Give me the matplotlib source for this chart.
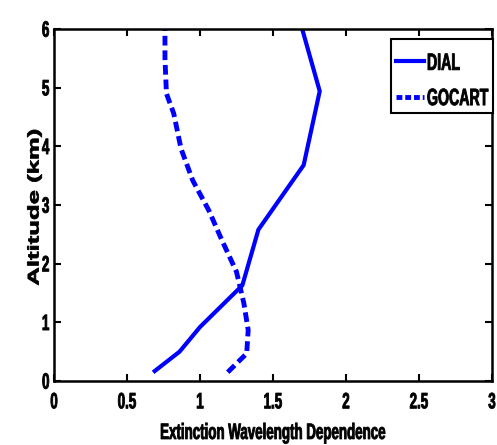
import matplotlib
matplotlib.use('Agg')
import matplotlib.pyplot as plt
from matplotlib import patheffects
from matplotlib.transforms import Affine2D, IdentityTransform
from matplotlib.patches import Rectangle

# altitude profiles (km) and extinction wavelength dependence
dial_alt = [0.17, 0.5, 0.92, 1.63, 2.58, 3.68, 4.94, 6.0]
dial_val = [0.69, 0.86, 1.0, 1.29, 1.40, 1.71, 1.82, 1.70]

gocart_alt = [0.15, 0.47, 0.87, 1.33, 1.86, 2.40, 2.91, 3.42, 3.96, 4.56, 4.90, 5.5, 6.0]
gocart_val = [1.19, 1.32, 1.33, 1.30, 1.25, 1.15, 1.06, 0.95, 0.87, 0.82, 0.77, 0.76, 0.76]

xticks = [0, 0.5, 1, 1.5, 2, 2.5, 3]
xticklabels = ['0', '0.5', '1', '1.5', '2', '2.5', '3']
yticks = [0, 1, 2, 3, 4, 5, 6]

SX = 0.6  # the original picture is squeezed sideways -> narrow tall text


class Squash(patheffects.AbstractPathEffect):
    """scale the glyphs on screen about a point (x anchor, mid cap height)
    and thicken them a little with a stroke"""
    def __init__(self, sx=1.0, sy=1.0, xanchor='center', lw=0.6):
        super().__init__()
        self.sx, self.sy, self.xanchor, self.lw = sx, sy, xanchor, lw

    def draw_path(self, renderer, gc, tpath, affine, rgbFace=None):
        ext = tpath.get_extents()
        xr = {'left': 0, 'center': (ext.x0 + ext.x1) / 2, 'right': ext.x1}[self.xanchor]
        px, py = affine.transform((xr, 36))
        t = affine + Affine2D().translate(-px, -py).scale(self.sx, self.sy).translate(px, py)
        renderer.draw_path(gc, tpath, t, rgbFace)
        if self.lw:
            gc0 = renderer.new_gc()
            gc0.copy_properties(gc)
            gc0.set_linewidth(self.lw)
            gc0.set_foreground(rgbFace)
            renderer.draw_path(gc0, tpath, t, None)
            gc0.restore()


plt.rcParams['font.family'] = ['Liberation Sans', 'DejaVu Sans']
plt.rcParams['font.weight'] = 'bold'

fig = plt.figure(figsize=(4.97, 4.45), dpi=100)
ax = fig.add_axes([54 / 497, 64 / 445, 438 / 497, 352 / 445])

ax.plot(dial_val, dial_alt, color='#0000ff', linewidth=3, label='DIAL')
ax.plot(gocart_val, gocart_alt, color='#0000ff', linewidth=3.5,
        linestyle=(0, (2.0, 1.0)), label='GOCART')

ax.set_xlim(0, 3)
ax.set_ylim(0, 6)
ax.set_xticks(xticks)
ax.set_xticklabels(xticklabels)
ax.set_yticks(yticks)

# text is laid out narrow, then stretched vertically on screen (sy = 1/SX)
ax.tick_params(direction='in', top=True, right=True, length=5, width=1.5,
               labelsize=16 * SX)
ax.tick_params(axis='x', pad=10.9)
ax.tick_params(axis='y', pad=3.3)
for s in ax.spines.values():
    s.set_linewidth(1.8)

ax.set_xlabel('Extinction Wavelength Dependence', fontsize=16 * SX, fontweight='bold')
ax.xaxis.set_label_coords(0.5, -0.130)
ax.set_ylabel('Altitude (km)', fontsize=18.5 * SX, fontweight='bold')
ax.yaxis.set_label_coords(-0.0285, 0.4935)

for t in ax.get_xticklabels():
    t.set_path_effects([Squash(sy=1 / SX, xanchor='center')])
for t in ax.get_yticklabels():
    t.set_path_effects([Squash(sy=1 / SX, xanchor='right')])
ax.xaxis.label.set_path_effects([Squash(sy=1 / SX, xanchor='center')])
ax.yaxis.label.set_path_effects([Squash(sy=1 / SX, xanchor='center')])

leg = ax.legend(loc='upper left', bbox_to_anchor=(391 / 497, 1 - 50.5 / 445),
                bbox_transform=fig.transFigure, fontsize=17 * SX, frameon=False,
                handlelength=1.95, handletextpad=0.24,
                borderpad=0.35, labelspacing=1.5, borderaxespad=0)
leg.set_zorder(6)
for t in leg.get_texts():
    t.set_path_effects([Squash(sy=1 / SX, xanchor='left')])
leg.get_lines()[1].set_linestyle((0, (1.2, 0.6)))

# legend box: taller than matplotlib's (padding differs top / sides)
fig.canvas.draw()
lb = leg.get_window_extent(fig.canvas.get_renderer())
pad_top, pad_bottom = 11.2, 3.75
frame = Rectangle((lb.x0, lb.y0 - pad_bottom), lb.width, lb.height + pad_top + pad_bottom,
                  transform=IdentityTransform(), facecolor='white', edgecolor='black',
                  linewidth=1.5, zorder=5.5, clip_on=False)
ax.add_artist(frame)

fig.savefig('out.png', dpi=100)
